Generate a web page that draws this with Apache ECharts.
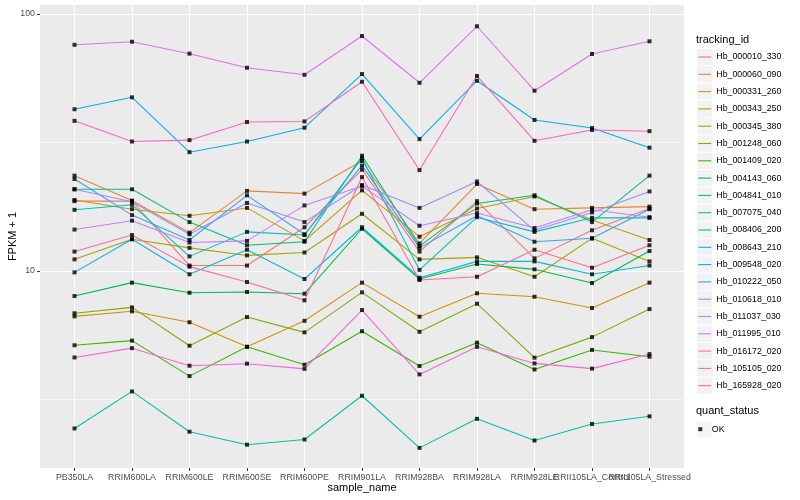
<!DOCTYPE html>
<html><head><meta charset="utf-8">
<script src="https://cdn.jsdelivr.net/npm/echarts@6/dist/echarts.min.js"></script>
<style>html,body{margin:0;padding:0;background:#fff}#c{width:800px;height:500px}</style>
</head><body><div id="c"></div>
<script>
const categories = ['PB350LA','RRIM600LA','RRIM600LE','RRIM600SE','RRIM600PE','RRIM901LA','RRIM928BA','RRIM928LA','RRIM928LE','RRII105LA_Control','RRII105LA_Stressed'];
const trackingIds = ['Hb_000010_330','Hb_000060_090','Hb_000331_260','Hb_000343_250','Hb_000345_380','Hb_001248_060','Hb_001409_020','Hb_004143_060','Hb_004841_010','Hb_007075_040','Hb_008406_200','Hb_008643_210','Hb_009548_020','Hb_010222_050','Hb_010618_010','Hb_011037_030','Hb_011995_010','Hb_016172_020','Hb_105105_020','Hb_165928_020'];
const trackingColors = ['#F8766D','#EA8331','#D89000','#C09B00','#A3A500','#7CAE00','#39B600','#00BB4E','#00BF7D','#00C1A3','#00BFC4','#00BAE0','#00B0F6','#35A2FF','#9590FF','#C77CFF','#E76BF3','#FA62DB','#FF62BC','#FF6A98'];

const hb000010_330 = [18.7, 18.7, 10.5, 10.5, 14.8, 24.8, 11.9, 18.7, 11.2, 14.4, 17.5];
const hb000060_090 = [23.5, 18.8, 14.1, 20.5, 20.0, 26.8, 12.8, 21.8, 17.4, 17.6, 17.8];
const hb000331_260 = [6.66, 6.97, 6.32, 5.07, 6.40, 9.01, 6.64, 8.19, 7.94, 7.18, 9.01];
const hb000343_250 = [18.9, 17.4, 16.4, 17.6, 13.1, 20.6, 13.6, 17.5, 19.5, 15.8, 13.2];
const hb000345_380 = [11.1, 13.3, 12.3, 11.5, 11.8, 16.7, 11.1, 11.3, 9.50, 13.4, 10.9];
const hb001248_060 = [6.85, 7.22, 5.12, 6.62, 5.77, 8.26, 5.80, 7.46, 4.60, 5.53, 7.11];
const hb001409_020 = [5.14, 5.36, 3.90, 5.07, 4.32, 5.83, 4.27, 5.26, 4.14, 4.93, 4.64];
const hb004143_060 = [7.99, 9.01, 8.23, 8.29, 8.16, 14.6, 9.31, 10.65, 10.15, 8.98, 11.96];
const hb004841_010 = [20.8, 20.8, 15.5, 12.6, 13.0, 28.1, 12.5, 18.3, 19.7, 15.5, 23.5];
const hb007075_040 = [2.44, 3.40, 2.37, 2.11, 2.21, 3.27, 2.05, 2.66, 2.19, 2.54, 2.72];
const hb008406_200 = [17.3, 18.1, 11.4, 14.2, 13.8, 27.5, 10.1, 16.2, 14.2, 16.1, 16.1];
const hb008643_210 = [9.88, 13.3, 9.71, 12.1, 9.31, 14.8, 9.42, 10.9, 10.9, 9.71, 10.5];
const hb009548_020 = [42.6, 47.4, 29.0, 31.9, 36.1, 58.4, 32.6, 55.0, 38.7, 36.0, 30.2];
const hb010222_050 = [22.8, 16.5, 13.2, 19.7, 13.9, 25.7, 12.3, 16.4, 13.0, 13.4, 17.4];
const hb010618_010 = [20.8, 18.6, 13.9, 18.4, 15.5, 21.6, 17.6, 22.3, 14.4, 16.9, 20.4];
const hb011037_030 = [14.5, 15.7, 12.9, 13.1, 18.0, 21.4, 15.0, 16.8, 14.7, 17.3, 16.2];
const hb011995_010 = [75.9, 78.0, 70.1, 61.8, 58.0, 82.1, 54.0, 89.6, 50.3, 69.9, 78.3];
const hb016172_020 = [4.61, 5.01, 4.28, 4.36, 4.16, 7.05, 3.96, 5.07, 4.37, 4.17, 4.75];
const hb105105_020 = [38.4, 31.9, 32.3, 38.0, 38.2, 54.5, 24.7, 57.4, 32.1, 35.4, 35.0];
const hb165928_020 = [11.9, 13.8, 10.4, 9.06, 7.69, 23.2, 9.23, 9.50, 12.1, 10.3, 12.6];

const trackingValues = [hb000010_330, hb000060_090, hb000331_260, hb000343_250, hb000345_380, hb001248_060, hb001409_020, hb004143_060, hb004841_010, hb007075_040, hb008406_200, hb008643_210, hb009548_020, hb010222_050, hb010618_010, hb011037_030, hb011995_010, hb016172_020, hb105105_020, hb165928_020];

const yMajorTicks = [10, 100];
const yMinorBreaks = [3.162, 31.62];
const yRange = [1.712, 108.4];
const quantStatus = 'OK';

const FONT = '"Liberation Sans", Arial, Helvetica, sans-serif';
const catIdx = categories.map((c, i) => i);
// blank end slots keep ECharts' min/max-label overlap check from dropping a category name
const labelSlots = [-0.5].concat(catIdx, [categories.length - 0.5]);

const series = trackingIds.map((id, k) => ({
  name: id, type: 'line', symbol: 'none', z: 2,
  color: trackingColors[k],
  lineStyle: { width: 1.07, color: trackingColors[k] },
  data: trackingValues[k].map((v, i) => [i, v]),
  silent: true, animation: false,
  markLine: k === 0 ? {
    silent: true, symbol: 'none', z: 1, animation: false,
    label: { show: false },
    lineStyle: { color: '#FFFFFF', width: 0.55, type: 'solid' },
    data: yMinorBreaks.map(b => ({ yAxis: b }))
  } : undefined
}));
const points = [];
trackingValues.forEach(arr => arr.forEach((v, i) => points.push([i, v])));
series.push({
  name: quantStatus, type: 'scatter', symbol: 'rect', symbolSize: 4, z: 3,
  itemStyle: { color: '#000000' }, data: points, silent: true, animation: false
});

const option = {
  animation: false,
  backgroundColor: '#FFFFFF',
  textStyle: { fontFamily: FONT },
  title: [
    { text: 'tracking_id', left: 696, top: 34, padding: 0, textStyle: { fontSize: 11, fontWeight: 'normal', color: '#000', fontFamily: FONT } },
    { text: 'quant_status', left: 696, top: 405.5, padding: 0, textStyle: { fontSize: 11, fontWeight: 'normal', color: '#000', fontFamily: FONT } }
  ],
  grid: { left: 40, top: 5, width: 644, height: 463, show: true, backgroundColor: '#EBEBEB', borderWidth: 0, containLabel: false, outerBoundsMode: 'none' },
  xAxis: {
    type: 'value', min: -0.6, max: 10.6,
    name: 'sample_name', nameLocation: 'middle', nameGap: 14, nameMoveOverlap: false,
    nameTextStyle: { fontSize: 11, color: '#000', fontFamily: FONT },
    axisLine: { show: false, onZero: false },
    axisTick: { show: true, customValues: catIdx, length: 3, lineStyle: { color: '#333333', width: 1 } },
    axisLabel: { show: true, customValues: labelSlots, margin: 5, fontSize: 8.8, color: '#4D4D4D', fontFamily: FONT, hideOverlap: false,
      formatter: v => (Number.isInteger(v) && categories[v] !== undefined) ? categories[v] : '' },
    splitLine: { show: true, lineStyle: { color: '#FFFFFF', width: 1.1 } },
    minorSplitLine: { show: false }
  },
  yAxis: {
    type: 'log', logBase: 10, min: yRange[0], max: yRange[1],
    name: 'FPKM + 1', nameLocation: 'middle', nameGap: 22, nameMoveOverlap: false,
    nameTextStyle: { fontSize: 11, color: '#000', fontFamily: FONT },
    axisLine: { show: false, onZero: false },
    axisTick: { show: true, customValues: yMajorTicks, length: 3, lineStyle: { color: '#333333', width: 1 } },
    axisLabel: { show: true, customValues: yMajorTicks, margin: 5, fontSize: 8.8, color: '#4D4D4D', fontFamily: FONT, hideOverlap: false },
    splitLine: { show: true, lineStyle: { color: '#FFFFFF', width: 1.1 } }
  },
  legend: [
    {
      data: trackingIds.map(n => ({ name: n, icon: 'rect', itemStyle: { color: '#F2F2F2', borderWidth: 0 } })),
      orient: 'vertical', left: 697.3, top: 48.85, itemWidth: 15, itemHeight: 16.3, itemGap: 1,
      padding: 0, selectedMode: false, z: 3, formatter: () => '',
      textStyle: { fontSize: 1, lineHeight: 1 }
    },
    {
      data: trackingIds.map(n => ({ name: n, icon: 'rect' })),
      orient: 'vertical', left: 698.3, top: 48.35, itemWidth: 13, itemHeight: 1.1, itemGap: 0,
      padding: 0, selectedMode: false, z: 4,
      itemStyle: { borderWidth: 0 },
      textStyle: { fontSize: 8.8, lineHeight: 17.3, color: '#000', fontFamily: FONT }
    },
    {
      data: [{ name: quantStatus, icon: 'rect', itemStyle: { color: '#F2F2F2', borderWidth: 0 } }],
      orient: 'vertical', left: 697.3, top: 421.7, itemWidth: 15, itemHeight: 15, itemGap: 0,
      padding: 0, selectedMode: false, z: 3, formatter: () => '',
      textStyle: { fontSize: 1, lineHeight: 1 }
    },
    {
      data: [{ name: quantStatus, icon: 'path://M0,0H4V4H0Z' }],
      orient: 'vertical', left: 698.3, top: 424.2, itemWidth: 13, itemHeight: 4, itemGap: 0,
      padding: 0, selectedMode: false, z: 4, symbolKeepAspect: true,
      itemStyle: { borderWidth: 0, color: '#000' },
      textStyle: { fontSize: 8.8, lineHeight: 10, color: '#000', fontFamily: FONT }
    }
  ],
  series: series
};
const chart = echarts.init(document.getElementById('c'), null, { renderer: 'canvas' });
chart.setOption(option);
</script>
</body></html>
